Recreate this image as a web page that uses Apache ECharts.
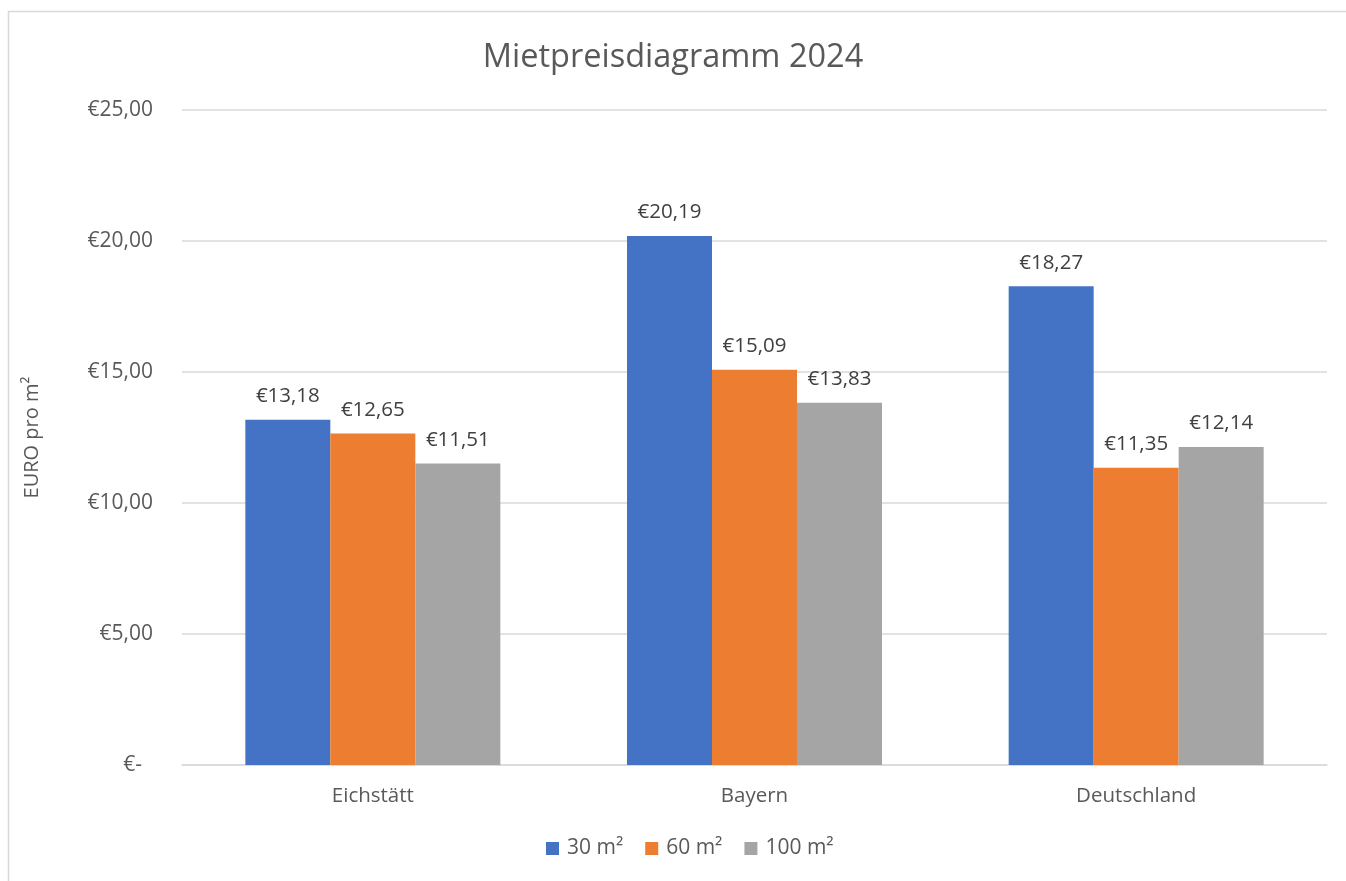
<!DOCTYPE html>
<html>
<head>
<meta charset="utf-8">
<script src="https://cdn.jsdelivr.net/npm/echarts@6/dist/echarts.min.js"></script>
<style>
  html, body { margin: 0; padding: 0; background: #fff; }
  #chart { width: 1346px; height: 881px; }
</style>
</head>
<body>
<div id="chart"></div>
<script>
// Daten
var regionen = ['Eichstätt', 'Bayern', 'Deutschland'];
var serienNamen = ['30 m²', '60 m²', '100 m²'];
var preis30 = [13.18, 20.19, 18.27];
var preis60 = [12.65, 15.09, 11.35];
var preis100 = [11.51, 13.83, 12.14];
var farben = ['#4472C4', '#ED7D31', '#A5A5A5'];

function euro(v) {
    if (v === 0) return '€-  ';
    return '€' + v.toFixed(2).replace('.', ',');
}

var fontName = '"Open Sans", sans-serif';
var chart = echarts.init(document.getElementById('chart'));

function bar(name, data, color) {
    return {
        name: name,
        type: 'bar',
        data: data,
        barWidth: 85,
        barGap: '0%',
        itemStyle: { color: color },
        label: {
            show: true,
            position: 'top',
            distance: 13,
            formatter: function (p) { return euro(p.value); },
            color: '#404040',
            fontSize: 20.5,
            fontFamily: fontName
        }
    };
}

var option = {
    animation: false,
    textStyle: { fontFamily: fontName },
    color: farben,
    title: {
        text: 'Mietpreisdiagramm 2024',
        left: 'center',
        top: 36,
        textStyle: { color: '#595959', fontSize: 32.5, fontWeight: 'normal', fontFamily: fontName }
    },
    grid: { left: 182, right: 19, top: 110, bottom: 116 },
    legend: {
        data: serienNamen,
        bottom: 17,
        left: 541,
        itemWidth: 13,
        itemHeight: 13,
        itemGap: 22,
        icon: 'rect',
        textStyle: { color: '#595959', fontSize: 21, fontFamily: fontName, padding: [0, 0, 0, 3] }
    },
    xAxis: {
        type: 'category',
        data: regionen,
        axisLine: { lineStyle: { color: '#D9D9D9', width: 1.5 } },
        axisTick: { show: false },
        axisLabel: { color: '#595959', fontSize: 20.5, margin: 21, fontFamily: fontName }
    },
    yAxis: {
        type: 'value',
        min: 0,
        max: 25,
        interval: 5,
        name: 'EURO pro m²',
        nameLocation: 'middle',
        nameGap: 140,
        nameTextStyle: { color: '#595959', fontSize: 20, fontFamily: fontName },
        axisLine: { show: false },
        axisTick: { show: false },
        axisLabel: { color: '#595959', fontSize: 21, margin: 29, formatter: euro, fontFamily: fontName },
        splitLine: { lineStyle: { color: '#D9D9D9', width: 1.5 } }
    },
    graphic: [{
        type: 'rect',
        shape: { x: 8.5, y: 11.5, width: 1400, height: 1000 },
        style: { fill: 'none', stroke: '#D9D9D9', lineWidth: 1.5 },
        silent: true
    }],
    series: [
        bar(serienNamen[0], preis30, farben[0]),
        bar(serienNamen[1], preis60, farben[1]),
        bar(serienNamen[2], preis100, farben[2])
    ]
};

chart.setOption(option);
</script>
</body>
</html>
